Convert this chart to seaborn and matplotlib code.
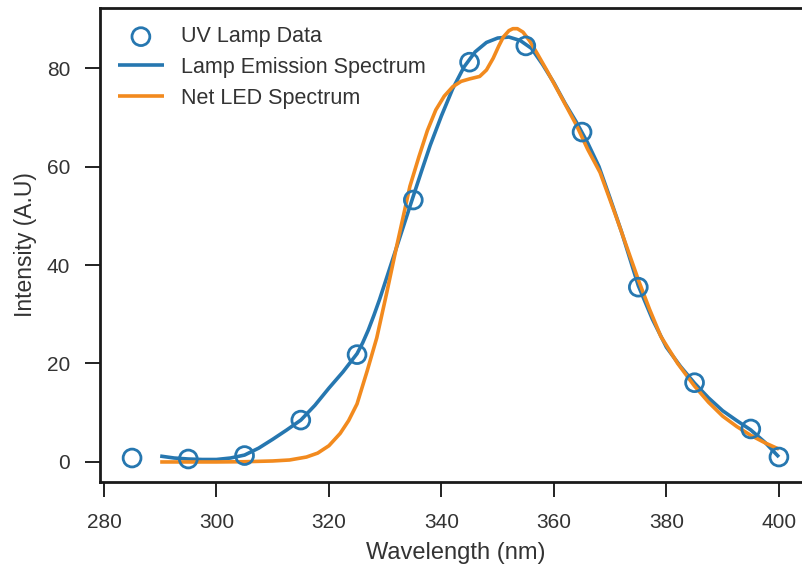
import matplotlib
matplotlib.use("Agg")
import matplotlib.pyplot as plt
import seaborn as sns
import pandas as pd

# ---- data ----
data_wl = [285, 295, 305, 315, 325, 335, 345, 355, 365, 375, 385, 395, 400]
data_int = [0.8, 0.6, 1.3, 8.5, 21.8, 53.2, 81.2, 84.5, 67.0, 35.5, 16.1, 6.7, 1.0]

lamp_wl = [290, 292.5, 295, 297.5, 300, 302.5, 305, 307.5, 310, 312.5, 315,
           317.5, 320, 322.5, 325, 326, 327, 328, 329, 331, 333, 335, 336.5,
           338, 340, 342, 344, 346, 348, 350, 352, 354, 356, 358, 360, 362,
           364, 366, 368, 370, 372, 375, 377.5, 380, 382.5, 385, 387.5, 390,
           392.5, 395, 397.5, 400]
lamp_int = [1.2, 0.8, 0.6, 0.5, 0.5, 0.8, 1.4, 2.8, 4.6, 6.5, 8.5, 11.5,
            15.0, 18.3, 22.0, 24.2, 26.8, 29.8, 33.0, 40.0, 47.0, 54.0, 59.2,
            64.3, 70.3, 75.8, 80.2, 83.3, 85.2, 86.1, 86.3, 85.6, 84.0, 80.7,
            77.0, 72.8, 69.0, 64.8, 60.0, 53.5, 46.8, 35.8, 29.0, 23.3, 19.4,
            16.0, 13.0, 10.4, 8.4, 6.5, 4.0, 1.0]

led_wl = [290, 300, 305, 310, 313, 316, 318, 320, 322, 323.5, 325, 326.8,
          328.5, 330.3, 332, 334.4, 336, 337.5, 339, 340.5, 342, 343.5, 345,
          346.8, 348, 349.2, 350.2, 351, 352, 352.7, 353.5, 354.5, 355.7,
          357, 358.8, 361.6, 364, 366, 368.2, 371, 373, 375, 377, 379, 382,
          385, 387.5, 390, 392.5, 395, 397.5, 400]
led_int = [0.0, 0.0, 0.05, 0.2, 0.4, 1.0, 1.8, 3.3, 5.8, 8.4, 11.8, 18.5,
           25.2, 34.5, 43.6, 56.0, 62.0, 67.3, 71.5, 74.3, 76.2, 77.3, 77.8,
           78.3, 79.6, 82.0, 84.5, 86.3, 87.6, 88.0, 88.0, 87.3, 85.5, 83.0,
           79.4, 73.5, 68.4, 63.5, 58.8, 50.0, 43.5, 37.0, 31.0, 25.5, 20.0,
           15.4, 12.1, 9.3, 7.2, 5.4, 3.9, 2.6]

blue = "#2677b0"
orange = "#f28a1e"

sns.set_theme(style="ticks")
plt.rcParams["font.family"] = ["Liberation Sans", "DejaVu Sans"]

fig = plt.figure(figsize=(8.03, 5.69), dpi=100)
ax = fig.add_axes([100 / 803, 87 / 569, 711 / 803, 474 / 569])

df_pts = pd.DataFrame({"wl": data_wl, "I": data_int})
df_lamp = pd.DataFrame({"wl": lamp_wl, "I": lamp_int})
df_led = pd.DataFrame({"wl": led_wl, "I": led_int})

sns.scatterplot(data=df_pts, x="wl", y="I", ax=ax, marker="o", s=165,
                facecolors="none", edgecolor=blue, linewidth=2.0,
                label="UV Lamp Data", zorder=3)
sns.lineplot(data=df_lamp, x="wl", y="I", ax=ax, color=blue, linewidth=2.6,
             label="Lamp Emission Spectrum", zorder=2,
             solid_joinstyle="round", solid_capstyle="butt")
sns.lineplot(data=df_led, x="wl", y="I", ax=ax, color=orange, linewidth=2.6,
             label="Net LED Spectrum", zorder=2,
             solid_joinstyle="round", solid_capstyle="butt")

ax.set_xlim(279.3, 405.7)
ax.set_ylim(-4.07, 92.2)
ax.set_xticks([280, 300, 320, 340, 360, 380, 400])
ax.set_yticks([0, 20, 40, 60, 80])
ax.set_xlabel("Wavelength (nm)", fontsize=17, color="#333333", labelpad=7)
ax.set_ylabel("Intensity (A.U)", fontsize=16.5, color="#333333", labelpad=7)
ax.tick_params(axis="both", labelsize=15, length=10.5, width=1.4,
               colors="#222222", labelcolor="#333333")
ax.tick_params(axis="x", pad=12)
ax.tick_params(axis="y", pad=11)
for sp in ax.spines.values():
    sp.set_linewidth(2.0)
    sp.set_color("#1a1a1a")

leg = ax.legend(loc="upper left", frameon=False, fontsize=15.5,
                handlelength=2.1, handletextpad=0.8, borderaxespad=0.4,
                borderpad=0.45, labelspacing=0.45)
for t in leg.get_texts():
    t.set_color("#333333")

fig.savefig("out.png", dpi=100)
